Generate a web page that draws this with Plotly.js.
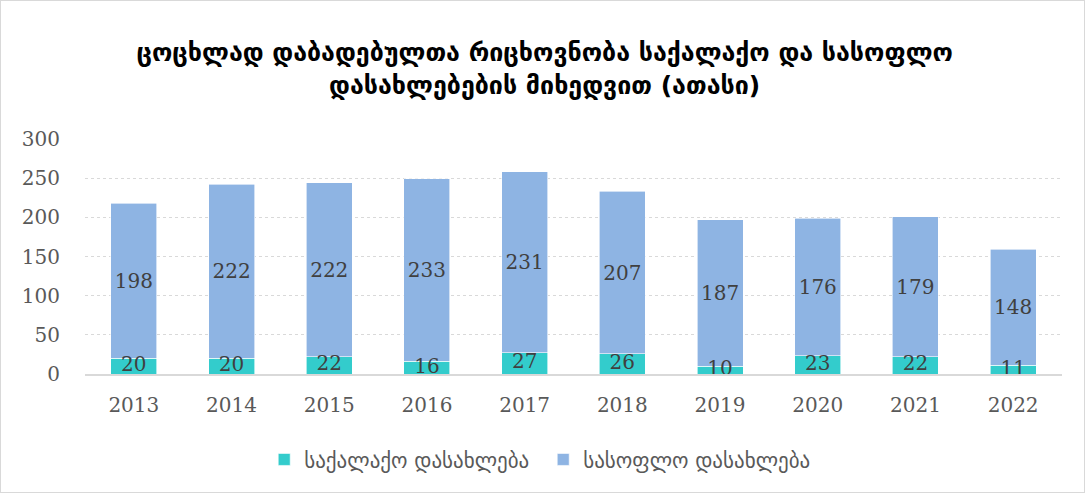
<!DOCTYPE html>
<html>
<head>
<meta charset="utf-8">
<script src="https://cdn.plot.ly/plotly-3.0.1.min.js"></script>
<style>
  body { margin: 0; background: #fff; }
  #plot { width: 1085px; height: 493px; box-sizing: border-box; border: 1px solid #d9d9d9; }
</style>
</head>
<body>
<div id="plot"></div>
<script>
const years = ['2013', '2014', '2015', '2016', '2017', '2018', '2019', '2020', '2021', '2022'];
const urban = [20, 20, 22, 16, 27, 26, 10, 23, 22, 11];
const rural = [198, 222, 222, 233, 231, 207, 187, 176, 179, 148];
const urbanName = 'საქალაქო დასახლება';
const ruralName = 'სასოფლო დასახლება';
const titleText = '<b>ცოცხლად დაბადებულთა რიცხოვნობა საქალაქო და სასოფლო<br>დასახლებების მიხედვით (ათასი)</b>';

const numFont = 'DejaVu Serif, Liberation Serif, serif';
const geoFont = 'DejaVu Sans, sans-serif';
const labelFont = { family: numFont, size: 20, color: '#404040' };

const data = [
  {
    type: 'bar',
    name: urbanName,
    x: years,
    y: urban,
    marker: { color: '#33CCCC', line: { color: '#ffffff', width: 0.6 } },
    hoverinfo: 'x+y'
  },
  {
    type: 'bar',
    name: ruralName,
    x: years,
    y: rural,
    text: rural.map(String),
    textposition: 'inside',
    insidetextanchor: 'middle',
    textangle: 0,
    constraintext: 'none',
    textfont: labelFont,
    marker: { color: '#8EB4E3', line: { color: '#ffffff', width: 0.6 } },
    hoverinfo: 'x+y'
  },
  // urban labels on top so the small segments don't hide them
  {
    type: 'scatter',
    mode: 'text',
    x: years,
    y: urban.map(v => v / 2),
    text: urban.map(String),
    textposition: 'middle center',
    textfont: labelFont,
    cliponaxis: false,
    showlegend: false,
    hoverinfo: 'skip'
  }
];

const layout = {
  width: 1083,
  height: 491,
  barmode: 'stack',
  bargap: 0.53,
  paper_bgcolor: '#ffffff',
  plot_bgcolor: '#ffffff',
  margin: { l: 84, r: 22, t: 138, b: 115 },
  title: {
    text: titleText,
    x: 0.502,
    xanchor: 'center',
    y: 0.877,
    yanchor: 'top',
    font: { family: geoFont, size: 25, color: '#000000' }
  },
  xaxis: {
    type: 'category',
    showline: true,
    linecolor: '#d9d9d9',
    linewidth: 1.5,
    ticks: 'outside',
    ticklen: 12,
    tickcolor: 'rgba(0,0,0,0)',
    tickfont: { family: numFont, size: 20, color: '#595959' },
    showgrid: false
  },
  yaxis: {
    range: [0, 300],
    dtick: 50,
    showline: false,
    zeroline: false,
    gridcolor: '#d9d9d9',
    griddash: 'dot',
    gridwidth: 1,
    ticks: 'outside',
    ticklen: 20,
    tickcolor: 'rgba(0,0,0,0)',
    tickfont: { family: numFont, size: 20, color: '#595959' }
  },
  showlegend: true,
  legend: {
    orientation: 'h',
    x: 0.469,
    xanchor: 'center',
    y: -0.365,
    yanchor: 'middle',
    font: { family: geoFont, size: 21, color: '#595959' },
    itemwidth: 30,
    entrywidth: 234,
    entrywidthmode: 'pixels',
    traceorder: 'normal'
  }
};

Plotly.newPlot('plot', data, layout, { displayModeBar: false, staticPlot: true });
</script>
</body>
</html>
